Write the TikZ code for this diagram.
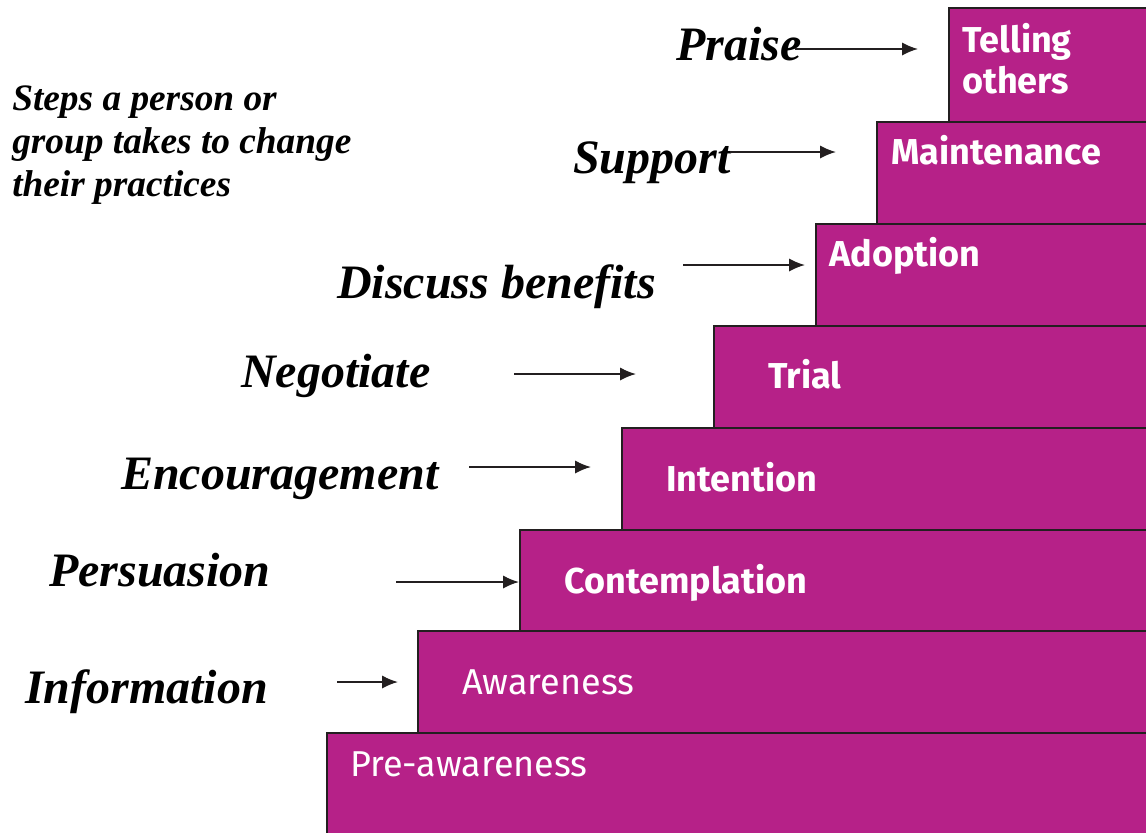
\documentclass[tikz,border=0pt]{standalone}
\usepackage{fontspec}
\setmainfont{Liberation Serif}
\newfontfamily\stepfont{Fira Sans}
\usetikzlibrary{arrows.meta}
\definecolor{stepmag}{RGB}{182,33,136}
\definecolor{edgegray}{RGB}{35,31,32}
\tikzset{
  stepfill/.style={fill=stepmag},
  stepedge/.style={draw=edgegray, line width=1.5pt},
  steptext/.style={anchor=base west, inner sep=0pt, text=white, font=\stepfont\bfseries\fontsize{27}{32}\selectfont},
  steptextlight/.style={anchor=base west, inner sep=0pt, text=white, font=\stepfont\fontsize{27}{32}\selectfont},
  action/.style={anchor=base west, inner sep=0pt, font=\bfseries\itshape\fontsize{36}{40}\selectfont},
  pointer/.style={-{Latex[length=12pt,width=10pt]}, line width=1.4pt, draw=edgegray},
}
\begin{document}
\begin{tikzpicture}[x=0.75pt,y=-0.75pt]
\useasboundingbox (0,0) rectangle (1146,832);
% steps, drawn top to bottom
\foreach \l/\t in {949/8, 877/122, 816/224, 714/326, 622/428, 520/530, 418/631, 327/733}{
  \path[stepfill] (\l,\t) rectangle (1150,836);
  \draw[stepedge] (1150,\t) -- (\l,\t) -- (\l,836);
}
% step labels
\node[steptext] (s8a) at (962,52) {Telling};
\node[steptext] (s8b) at (962,93) {others};
\node[steptext] (s7) at (891,164) {Maintenance};
\node[steptext] (s6) at (829,266) {Adoption};
\node[steptext] (s5) at (768,388) {Trial};
\node[steptext] (s4) at (666,491) {Intention};
\node[steptext] (s3) at (564,593) {Contemplation};
\node[steptextlight] (s2) at (462,694) {Awareness};
\node[steptextlight] (s1) at (350,776) {Pre-awareness};
% action labels
\node[action] (a7) at (676,60) {Praise};
\node[action] (a6) at (573,173) {Support};
\node[action] (a5) at (337,298) {Discuss benefits};
\node[action] (a4) at (241,387) {Negotiate};
\node[action] (a3) at (121,489) {Encouragement};
\node[action] (a2) at (49,586) {Persuasion};
\node[action] (a1) at (25,703) {Information};
% subtitle
\node[anchor=north west, inner sep=0pt, align=left, font=\bfseries\itshape\fontsize{28}{32}\selectfont] (title) at (12,86)
  {Steps a person or\\group takes to change\\their practices};
% arrows
\coordinate (p7s) at (795,49);  \coordinate (p7e) at (918,49);
\coordinate (p6s) at (730,152); \coordinate (p6e) at (836,152);
\coordinate (p5s) at (683,265); \coordinate (p5e) at (805,265);
\coordinate (p4s) at (514,374); \coordinate (p4e) at (636,374);
\coordinate (p3s) at (469,467); \coordinate (p3e) at (591,467);
\coordinate (p2s) at (396,582); \coordinate (p2e) at (519,582);
\coordinate (p1s) at (337,682); \coordinate (p1e) at (398,682);
\foreach \i in {1,...,7}{ \draw[pointer] (p\i s) -- (p\i e); }
\end{tikzpicture}
\end{document}
